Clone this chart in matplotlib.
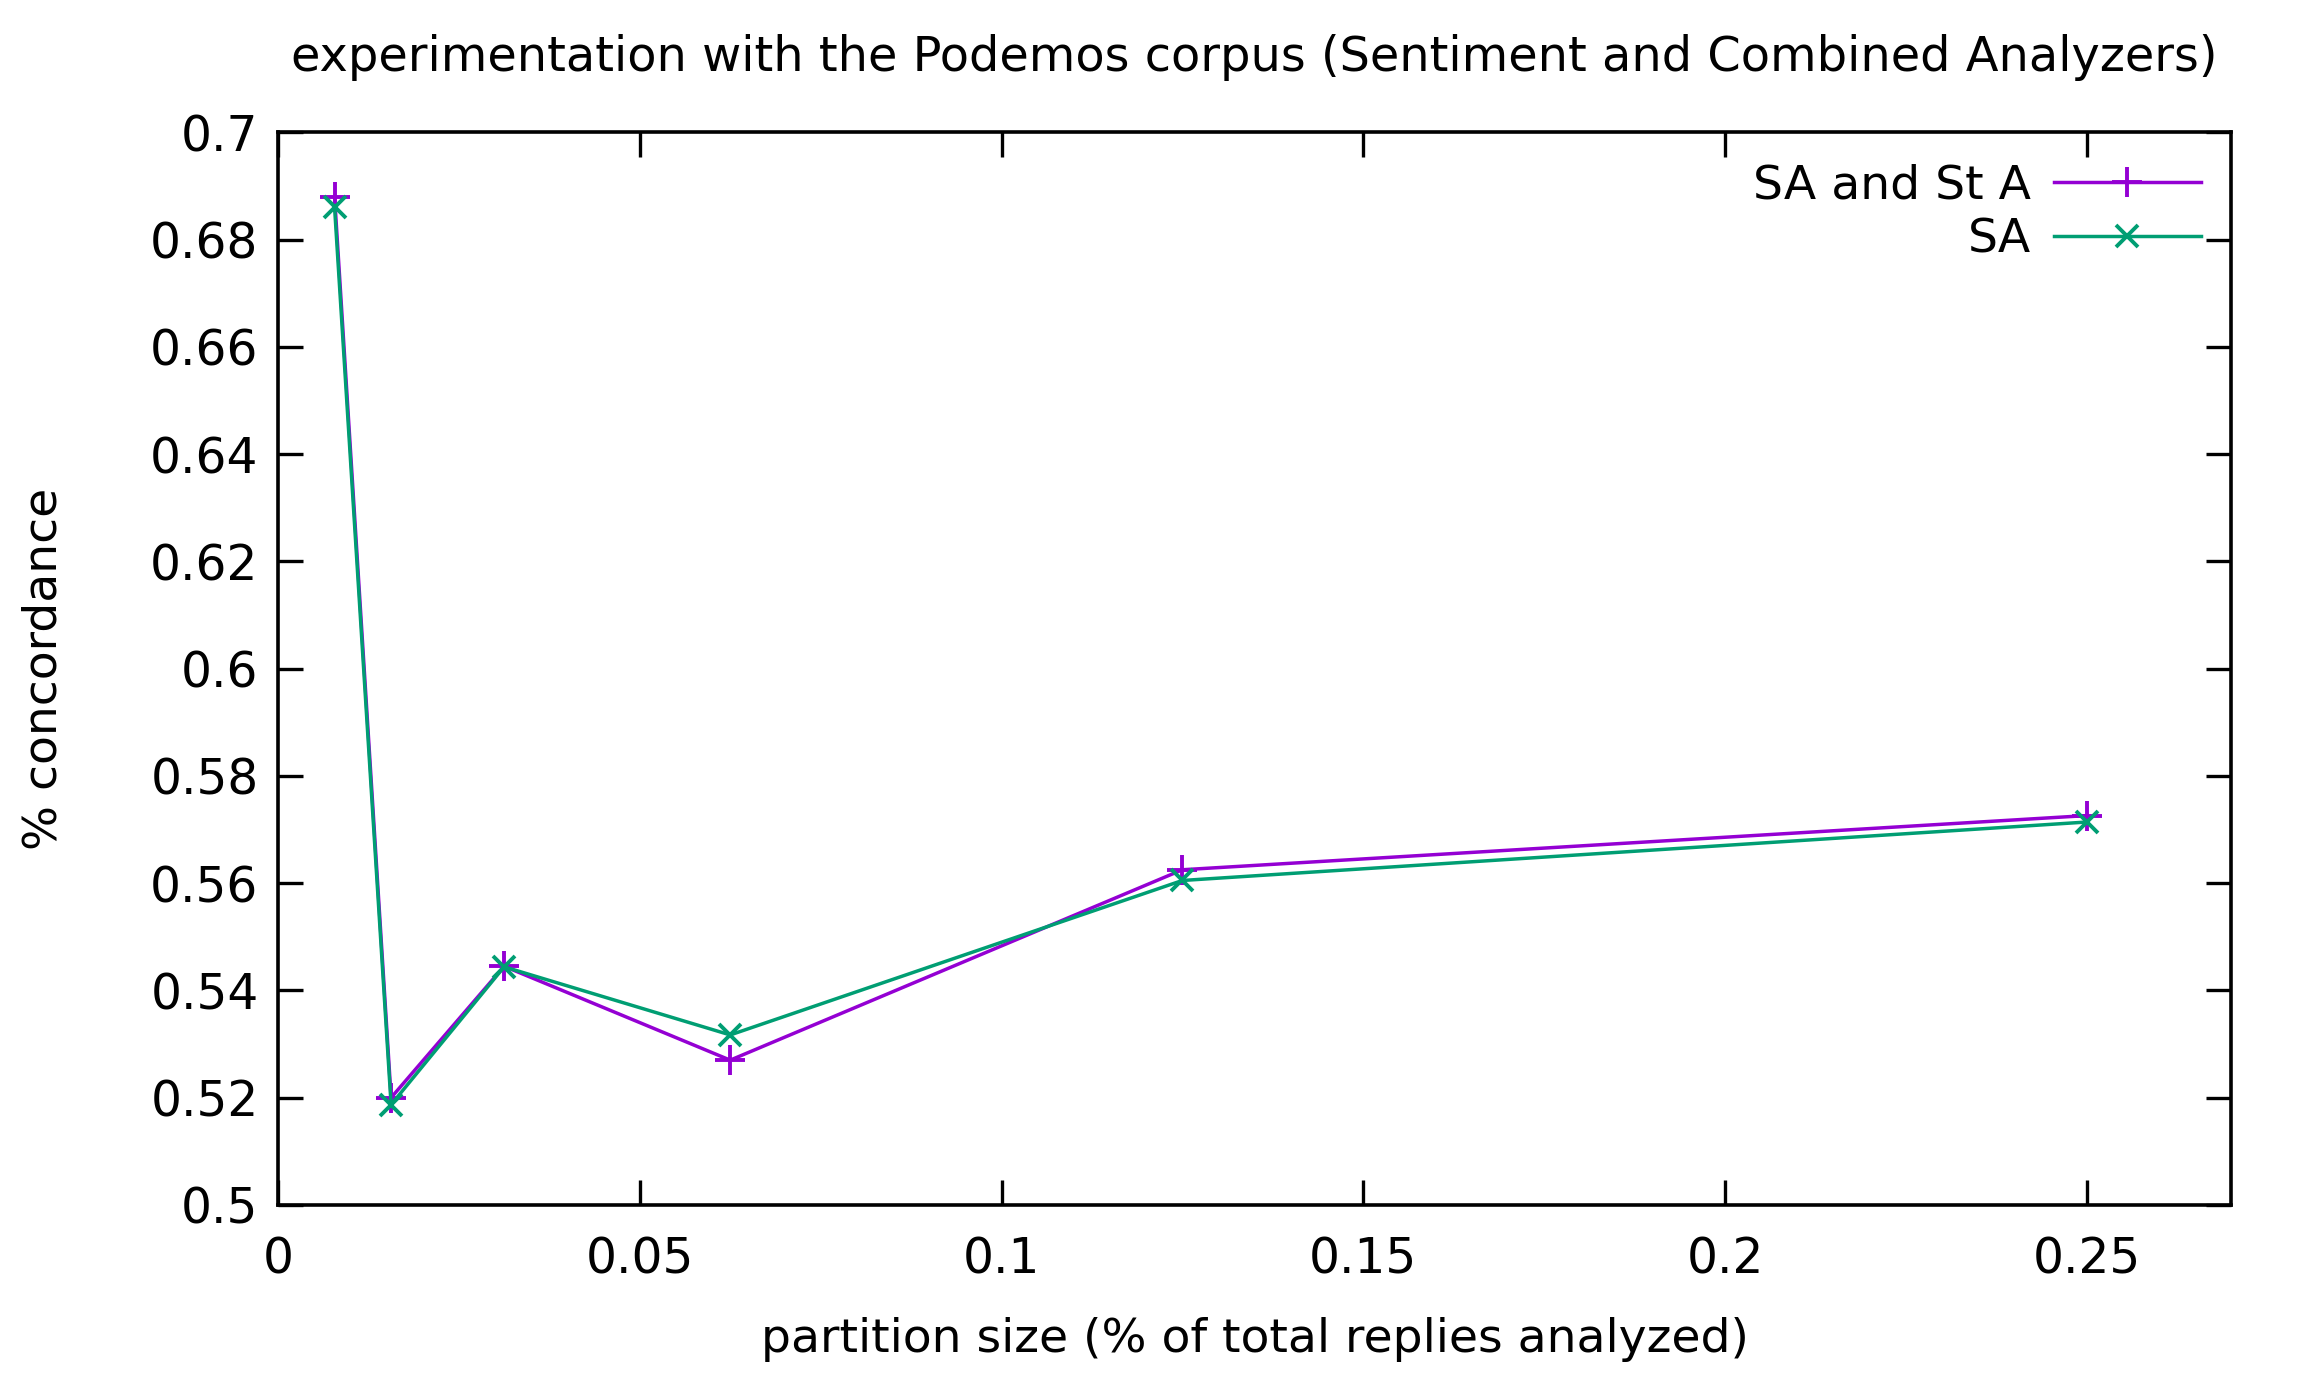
import numpy as np
import matplotlib
matplotlib.use("Agg")
import matplotlib.pyplot as plt

# partition sizes (fraction of total replies)
partition = [0.0078125, 0.015625, 0.03125, 0.0625, 0.125, 0.25]
sa_st_a = [0.688, 0.520, 0.5445, 0.527, 0.5625, 0.5726]
sa_only = [0.686, 0.5187, 0.5444, 0.5317, 0.5605, 0.5714]
xticks = [0, 0.05, 0.1, 0.15, 0.2, 0.25]
yticks = [0.5, 0.52, 0.54, 0.56, 0.58, 0.6, 0.62, 0.64, 0.66, 0.68, 0.7]

plt.rcParams['font.family'] = ['DejaVu Sans']

fig = plt.figure(figsize=(22.98, 13.93), dpi=100)
ax = fig.add_axes([0.121, 0.135, 0.850, 0.770])

ax.plot(partition, sa_st_a, color='#9400d3', lw=2.5, marker='+', ms=22, mew=2.8,
        label='SA and St A')
ax.plot(partition, sa_only, color='#009e73', lw=2.5, marker='x', ms=16, mew=2.8,
        label='SA')

ax.set_xlim(0, 0.27)
ax.set_ylim(0.5, 0.7)
ax.set_xticks(xticks)
ax.set_xticklabels(['0', '0.05', '0.1', '0.15', '0.2', '0.25'])
ax.set_yticks(yticks)
ax.set_yticklabels(['0.5', '0.52', '0.54', '0.56', '0.58', '0.6', '0.62', '0.64',
                    '0.66', '0.68', '0.7'])
ax.tick_params(direction='in', length=18, width=2.4, labelsize=35,
               top=True, right=True)
ax.tick_params(axis='x', pad=22)
ax.tick_params(axis='y', pad=14)
for s in ax.spines.values():
    s.set_linewidth(2.6)

ax.set_xlabel('partition size (% of total replies analyzed)', fontsize=34, labelpad=24)
ax.set_ylabel('% concordance', fontsize=34, labelpad=60)
ax.set_title('experimentation with the Podemos corpus (Sentiment and Combined Analyzers)',
             fontsize=34.5, pad=44)

ax.legend(loc='upper right', frameon=False, fontsize=34, markerfirst=False,
          handlelength=3.1, handletextpad=0.5, borderaxespad=0.25, labelspacing=0.2)

fig.savefig('out.png', dpi=100)
